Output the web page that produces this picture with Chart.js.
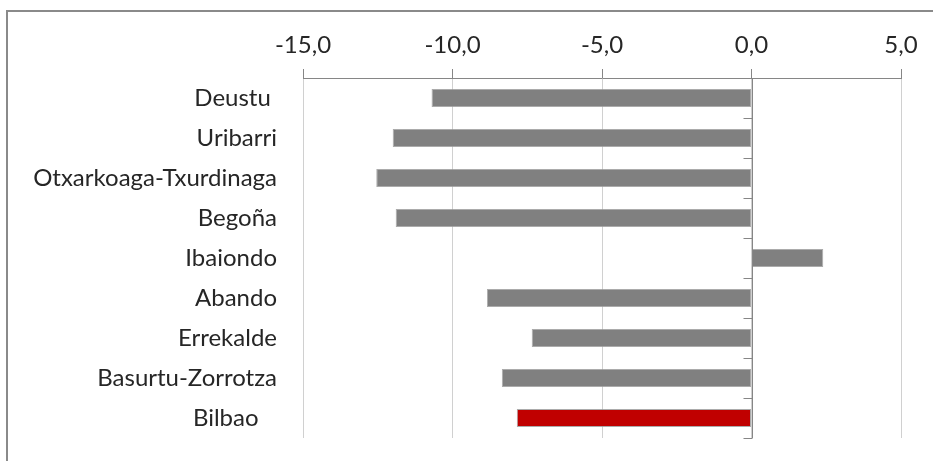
<!DOCTYPE html>
<html>
<head>
<meta charset="utf-8">
<script src="https://cdn.jsdelivr.net/npm/chart.js@4.4.1/dist/chart.umd.min.js"></script>
<style>
  html, body { margin: 0; padding: 0; background: #ffffff; }
  #wrap { position: relative; width: 933px; height: 461px; }
</style>
</head>
<body>
<div id="wrap"><canvas id="c" width="933" height="461"></canvas></div>
<script>
const categories = ["Deustu ", "Uribarri", "Otxarkoaga-Txurdinaga", "Begoña", "Ibaiondo", "Abando", "Errekalde", "Basurtu-Zorrotza", "Bilbao   "];
const values = [-10.7, -12.0, -12.55, -11.9, 2.4, -8.85, -7.35, -8.35, -7.85];
const barColors = ["#808080", "#808080", "#808080", "#808080", "#808080", "#808080", "#808080", "#808080", "#C00000"];
const xMin = -15, xMax = 5, xStep = 5;

const FONT = "Lato";

const frameAndZeroAxis = {
  id: "frameAndZeroAxis",
  beforeDraw(chart) {
    const ctx = chart.ctx;
    ctx.save();
    ctx.strokeStyle = "#8a8a8a";
    ctx.lineWidth = 2;
    ctx.strokeRect(7, 11, 1200, 1200);
    ctx.restore();
  },
  afterDatasetsDraw(chart) {
    const ctx = chart.ctx;
    const xs = chart.scales.x, ys = chart.scales.y;
    const area = chart.chartArea;
    const x0 = Math.round(xs.getPixelForValue(0)) + 0.5;
    ctx.save();
    ctx.strokeStyle = "#868686";
    ctx.lineWidth = 1;
    ctx.beginPath();
    ctx.moveTo(x0, area.top);
    ctx.lineTo(x0, area.bottom);
    const n = categories.length;
    for (let i = 1; i <= n; i++) {
      let yy;
      if (i < n) yy = Math.round((ys.getPixelForValue(i - 1) + ys.getPixelForValue(i)) / 2) + 0.5;
      else yy = Math.round(area.bottom) + 0.5;
      ctx.moveTo(x0 - 9, yy);
      ctx.lineTo(x0, yy);
    }
    ctx.stroke();
    ctx.restore();
  }
};

new Chart(document.getElementById("c"), {
  type: "bar",
  data: {
    labels: categories,
    datasets: [{
      data: values,
      backgroundColor: barColors,
      borderColor: "rgba(150,150,150,0.8)",
      borderWidth: 1,
      borderSkipped: false,
      barPercentage: 0.45,
      categoryPercentage: 1.0
    }]
  },
  plugins: [frameAndZeroAxis],
  options: {
    indexAxis: "y",
    responsive: false,
    animation: false,
    devicePixelRatio: 1,
    layout: { padding: { left: 0, top: 0, right: 32, bottom: 23 } },
    plugins: { legend: { display: false }, tooltip: { enabled: false } },
    scales: {
      x: {
        position: "top",
        min: xMin,
        max: xMax,
        ticks: {
          stepSize: xStep,
          padding: 9,
          color: "#262626",
          font: { family: FONT, size: 24 },
          callback: v => Number(v).toFixed(1).replace(".", ",")
        },
        grid: {
          color: "#d0d0d0",
          tickColor: "#868686",
          tickLength: 9,
          drawTicks: true
        },
        border: { display: true, color: "#868686" },
        afterFit: s => { s.height = 78; s.paddingLeft = 0; s.paddingRight = 0; }
      },
      y: {
        position: "left",
        ticks: {
          padding: 26,
          color: "#262626",
          font: { family: FONT, size: 24 }
        },
        grid: { display: false, drawTicks: false },
        border: { display: false },
        afterFit: s => { s.width = 303; s.paddingTop = 0; s.paddingBottom = 0; }
      }
    }
  }
});
</script>
</body>
</html>
